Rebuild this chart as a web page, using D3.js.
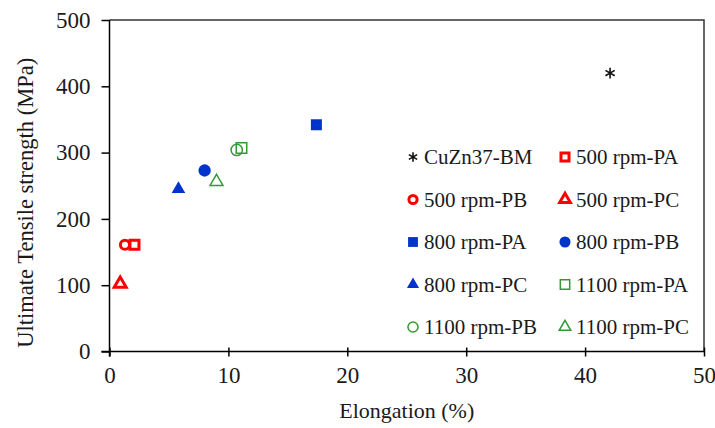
<!DOCTYPE html>
<html>
<head>
<meta charset="utf-8">
<script src="https://cdn.jsdelivr.net/npm/d3@7"></script>
<style>
  html, body { margin: 0; padding: 0; background: #fff; }
  svg { display: block; }
  text { font-family: "Liberation Serif", "Times New Roman", serif; fill: #1a1a1a; }
</style>
</head>
<body>
<svg id="chart" width="715" height="428"></svg>
<script>
// ---- data ----
const seriesNames = ["CuZn37-BM", "500 rpm-PA", "500 rpm-PB", "500 rpm-PC",
                     "800 rpm-PA", "800 rpm-PB", "800 rpm-PC",
                     "1100 rpm-PA", "1100 rpm-PB", "1100 rpm-PC"];
const elongation = [42.1, 2.1, 1.3, 0.9, 17.4, 8.0, 5.8, 11.1, 10.7, 9.0];
const uts        = [420, 161, 161, 102, 342, 273, 245, 307, 304, 256];
const xTicks = [0, 10, 20, 30, 40, 50];
const yTicks = [0, 100, 200, 300, 400, 500];

// ---- styles ----
const RED = "#ff0000", BLUE = "#0033cc", GREEN = "#339933";
const styles = [
  {shape: d3.symbolAsterisk, size: 80, fill: "none", stroke: "#111", sw: 1.6},
  {shape: d3.symbolSquare,   size: 81, fill: "none", stroke: RED, sw: 3},
  {shape: d3.symbolCircle,   size: 66, fill: "none", stroke: RED, sw: 3},
  {shape: d3.symbolTriangle, size: 62, fill: "none", stroke: RED, sw: 3},
  {shape: d3.symbolSquare,   size: 121, fill: BLUE, stroke: "none", sw: 0},
  {shape: d3.symbolCircle,   size: 120, fill: BLUE, stroke: "none", sw: 0},
  {shape: d3.symbolTriangle, size: 80, fill: BLUE, stroke: "none", sw: 0},
  {shape: d3.symbolSquare,   size: 110, fill: "none", stroke: GREEN, sw: 1.5},
  {shape: d3.symbolCircle,   size: 100, fill: "none", stroke: GREEN, sw: 1.5},
  {shape: d3.symbolTriangle, size: 72, fill: "none", stroke: GREEN, sw: 1.5}
];

const svg = d3.select("#chart");
const pL = 109.5, pR = 704, pT = 20, pB = 351.5;
const x = d3.scaleLinear().domain([0, 50]).range([pL, pR]);
const y = d3.scaleLinear().domain([0, 500]).range([pB, pT]);

// frame (top & right)
svg.append("path")
  .attr("d", `M${pL},${pT}H${pR}V${pB}`)
  .attr("fill", "none").attr("stroke", "#333").attr("stroke-width", 1.5);

// x axis
const gx = svg.append("g").attr("transform", `translate(0,${pB})`)
  .call(d3.axisBottom(x).tickValues(xTicks).tickSize(5).tickSizeOuter(0).tickPadding(10));
gx.selectAll(".tick line").attr("y1", -4);
// y axis
const gy = svg.append("g").attr("transform", `translate(${pL},0)`)
  .call(d3.axisLeft(y).tickValues(yTicks).tickSize(8).tickSizeOuter(0).tickPadding(11));

[gx, gy].forEach(g => {
  g.select(".domain").attr("stroke", "#000").attr("stroke-width", 1.5);
  g.selectAll(".tick line").attr("stroke", "#000").attr("stroke-width", 1.5);
  g.selectAll(".tick text").attr("font-size", 23);
});
// extend axes slightly past origin
gx.select(".domain").attr("d", `M${pL - 8},0H${pR}`);
gy.select(".domain").attr("d", `M0,${pB + 5}V${pT}`);

// axis titles
svg.append("text").attr("x", (pL + pR) / 2).attr("y", 418)
  .attr("text-anchor", "middle").attr("font-size", 22).text("Elongation (%)");
svg.append("text").attr("transform", `translate(33,${(pT + pB) / 2 + 17}) rotate(-90)`)
  .attr("text-anchor", "middle").attr("font-size", 22.5).text("Ultimate Tensile strength (MPa)");

// points
const sym = d3.symbol();
svg.append("g").selectAll("path").data(seriesNames).join("path")
  .attr("transform", (d, i) => `translate(${x(elongation[i])},${y(uts[i])})`)
  .attr("d", (d, i) => sym.type(styles[i].shape).size(styles[i].size)())
  .attr("fill", (d, i) => styles[i].fill)
  .attr("stroke", (d, i) => styles[i].stroke)
  .attr("stroke-width", (d, i) => styles[i].sw);

// legend
const legX = [413, 565], legY0 = 157, legDy = 42.5;
const leg = svg.append("g").selectAll("g").data(seriesNames).join("g")
  .attr("transform", (d, i) => `translate(${legX[i % 2]},${legY0 + Math.floor(i / 2) * legDy})`);
leg.append("path")
  .attr("d", (d, i) => sym.type(styles[i].shape).size(styles[i].size * 0.8)())
  .attr("fill", (d, i) => styles[i].fill)
  .attr("stroke", (d, i) => styles[i].stroke)
  .attr("stroke-width", (d, i) => styles[i].sw);
leg.append("text").attr("x", 11).attr("dy", "0.35em")
  .attr("font-size", 21).text(d => d);
</script>
</body>
</html>
